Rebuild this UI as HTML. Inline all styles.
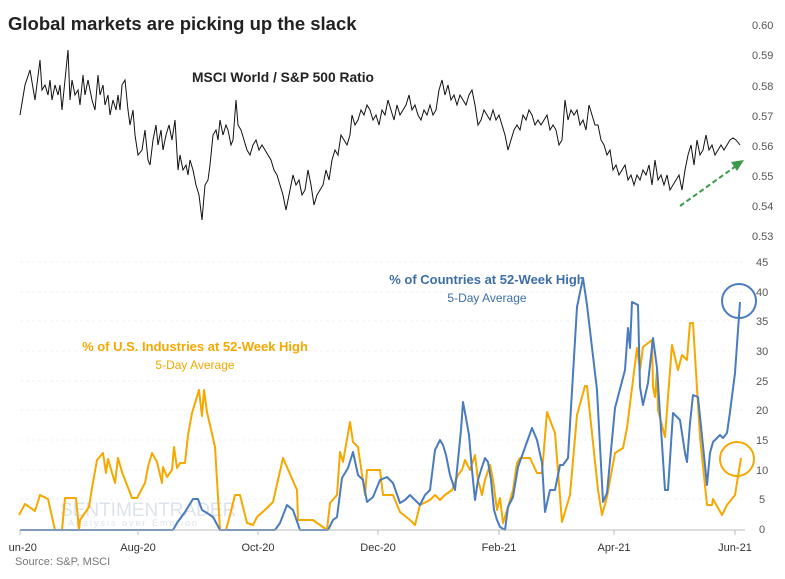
<!DOCTYPE html>
<html><head><meta charset="utf-8"><style>
body{margin:0;background:#fff;}
svg{display:block;font-family:"Liberation Sans",sans-serif;}
</style></head><body>
<svg width="785" height="579" viewBox="0 0 785 579" xmlns="http://www.w3.org/2000/svg">
<rect width="785" height="579" fill="#fff"/>
<text x="8" y="30" font-size="18.5" font-weight="bold" fill="#222">Global markets are picking up the slack</text>
<g font-size="11" fill="#555">
<text x="752" y="29">0.60</text><text x="752" y="59">0.59</text><text x="752" y="90">0.58</text><text x="752" y="120">0.57</text><text x="752" y="150">0.56</text><text x="752" y="180">0.55</text><text x="752" y="210">0.54</text><text x="752" y="240">0.53</text>
<text x="756" y="266">45</text><text x="756" y="296">40</text><text x="756" y="325">35</text><text x="756" y="355">30</text><text x="756" y="385">25</text><text x="756" y="414">20</text><text x="756" y="444">15</text><text x="756" y="474">10</text><text x="759" y="503">5</text><text x="759" y="533">0</text>
</g>
<g stroke="#f0f0f0" stroke-dasharray="3,3" stroke-width="1">
<line x1="20" x2="745" y1="262" y2="262"/><line x1="20" x2="745" y1="292" y2="292"/><line x1="20" x2="745" y1="321" y2="321"/><line x1="20" x2="745" y1="351" y2="351"/><line x1="20" x2="745" y1="381" y2="381"/><line x1="20" x2="745" y1="410" y2="410"/><line x1="20" x2="745" y1="440" y2="440"/><line x1="20" x2="745" y1="470" y2="470"/><line x1="20" x2="745" y1="499" y2="499"/>
</g>
<text x="283" y="82" font-size="13.8" font-weight="bold" fill="#222" text-anchor="middle">MSCI World / S&amp;P 500 Ratio</text>
<text x="487" y="284" font-size="13" font-weight="bold" fill="#3d6ea8" text-anchor="middle">% of Countries at 52-Week High</text>
<text x="487" y="302" font-size="12" fill="#3d6ea8" text-anchor="middle">5-Day Average</text>
<text x="195" y="351" font-size="13" font-weight="bold" fill="#f5a800" text-anchor="middle">% of U.S. Industries at 52-Week High</text>
<text x="195" y="369" font-size="12" fill="#f5a800" text-anchor="middle">5-Day Average</text>
<text x="60" y="516" font-size="19" fill="#dde3ea">SENTIMENTRADER</text>
<text x="68" y="526" font-size="9" fill="#dde3ea" letter-spacing="2">Analysis over Emotion</text>
<polyline fill="none" stroke="#111" stroke-width="1" points="20,115 25,85 30,70 35,100 40,60 42,90 45,85 48,95 50,80 52,100 55,85 58,95 60,85 62,110 65,80 68,50 70,100 72,80 75,95 78,90 80,105 83,75 85,95 88,80 92,100 95,110 98,75 100,95 103,85 105,105 108,95 110,115 113,100 116,110 118,95 120,110 122,85 125,80 128,110 130,125 133,110 135,135 138,155 142,150 145,130 148,160 150,165 153,140 156,125 158,145 161,130 163,150 166,135 169,125 172,140 175,120 178,170 180,155 183,170 186,165 188,175 190,160 193,170 196,185 199,195 202,220 205,185 208,180 210,165 213,135 216,130 218,140 220,120 223,135 226,125 228,130 231,145 233,140 236,100 238,125 241,130 244,140 247,150 250,155 253,145 256,140 259,150 262,145 265,150 268,155 271,160 274,170 277,175 280,185 283,195 286,210 288,200 290,190 293,175 296,185 299,180 302,195 305,190 308,170 311,185 314,205 317,195 320,190 323,185 326,170 329,180 332,160 335,150 338,155 341,135 344,140 347,145 350,135 352,115 355,125 358,120 361,110 364,115 367,105 370,110 373,120 376,115 379,125 382,110 385,115 388,100 391,110 394,120 397,105 400,115 403,110 406,105 409,95 412,110 415,105 418,115 421,120 424,110 427,115 430,105 433,115 436,110 439,90 442,80 445,95 448,85 451,100 454,95 457,105 460,95 463,100 466,105 469,95 472,90 475,105 478,125 481,120 484,110 487,115 490,120 493,110 496,120 499,115 502,125 505,135 508,150 511,140 514,130 517,125 520,130 523,115 526,120 529,110 532,115 535,125 538,120 541,125 544,120 547,115 550,130 553,125 556,130 559,145 562,140 565,100 568,120 571,110 574,115 577,110 580,125 583,120 586,130 589,105 592,115 595,125 598,125 601,140 604,145 607,155 610,150 613,170 616,165 619,175 622,170 625,165 628,180 631,175 634,185 637,175 640,180 643,170 646,175 649,165 652,185 655,160 658,180 661,175 664,185 667,175 670,190 673,185 676,180 679,175 682,190 685,170 688,155 691,145 694,165 697,140 700,155 703,150 706,135 709,150 712,145 715,155 718,150 721,145 724,150 727,145 730,140 733,138 736,140 740,145"/>
<line x1="680" y1="206" x2="736" y2="166" stroke="#3a9a4a" stroke-width="2" stroke-dasharray="5,3"/>
<polygon points="744,160 731,162 737,171" fill="#3a9a4a"/>
<polyline fill="none" stroke="#f5a800" stroke-width="2" stroke-linejoin="round" points="19,515 25,504 35,511 40,495 48,499 55,530 62,530 65,498 76,498 79,530 80,520 89,507 92,488 97,460 103,453 106,473 108,459 115,483 118,458 122,472 132,498 137,498 145,483 148,467 152,453 157,462 162,483 163,467 167,477 172,470 174,447 177,468 180,463 185,463 188,435 192,413 199,390 202,416 204,390 207,412 215,447 220,530 226,530 230,515 235,495 240,495 247,523 253,525 257,517 267,508 270,505 273,502 283,458 297,490 298,520 313,520 327,530 330,503 337,495 340,452 343,462 350,422 353,442 358,447 365,495 367,470 380,470 383,495 393,495 400,512 410,520 415,525 420,505 430,500 435,495 440,500 445,495 452,490 458,475 462,470 465,460 470,470 475,455 478,480 482,495 485,480 490,465 493,480 497,510 500,498 503,523 508,507 513,490 517,463 520,458 530,458 537,473 542,473 547,412 555,433 562,522 570,495 572,472 577,415 585,386 587,386 598,490 602,515 607,497 615,453 623,448 627,428 637,348 640,370 643,347 652,340 653,387 655,397 657,370 658,410 665,437 668,397 672,345 678,370 682,355 687,360 690,323 693,323 700,437 707,505 712,505 713,499 722,515 727,505 735,495 741,458"/>
<polyline fill="none" stroke="#4a7bbf" stroke-width="2" stroke-linejoin="round" points="20,530 173,530 177,523 185,512 193,499 198,499 202,510 207,513 213,517 220,530 275,530 280,523 287,505 293,510 300,530 328,530 333,520 337,517 342,478 348,468 353,452 358,475 363,480 367,502 373,497 380,480 387,477 393,483 400,503 405,500 410,495 415,500 420,505 425,495 430,490 435,450 440,440 443,445 446,455 450,475 455,490 458,460 461,430 463,402 466,418 469,435 472,470 475,500 478,480 481,470 485,458 488,462 491,480 494,510 497,520 500,527 505,530 508,507 513,497 518,467 532,428 537,440 542,463 545,512 550,490 555,490 560,465 563,465 568,458 577,307 583,278 587,305 597,390 603,502 607,493 615,408 625,370 628,328 630,348 632,302 638,305 640,387 643,405 648,383 653,338 657,368 665,490 668,490 673,413 680,420 685,453 687,462 690,423 693,395 698,397 707,485 710,453 713,442 720,435 723,438 727,433 730,412 735,373 740,302"/>
<circle cx="739" cy="301" r="17" fill="none" stroke="#4a7bbf" stroke-width="2"/>
<circle cx="737" cy="459" r="17" fill="none" stroke="#f5a800" stroke-width="2"/>
<line x1="20" x2="745" y1="530" y2="530" stroke="#bbb"/>
<g stroke="#bbb"><line x1="20" x2="20" y1="530" y2="535"/><line x1="138" x2="138" y1="530" y2="535"/><line x1="258" x2="258" y1="530" y2="535"/><line x1="378" x2="378" y1="530" y2="535"/><line x1="499" x2="499" y1="530" y2="535"/><line x1="614" x2="614" y1="530" y2="535"/><line x1="735" x2="735" y1="530" y2="535"/></g>
<g font-size="11" fill="#333" text-anchor="middle">
<text x="20" y="551">Jun-20</text><text x="138" y="551">Aug-20</text><text x="258" y="551">Oct-20</text><text x="378" y="551">Dec-20</text><text x="499" y="551">Feb-21</text><text x="614" y="551">Apr-21</text><text x="735" y="551">Jun-21</text>
</g>
<rect x="0" y="538" width="8" height="16" fill="#fff"/>
<text x="15" y="565" font-size="11" fill="#777">Source: S&amp;P, MSCI</text>
</svg>
</body></html>
